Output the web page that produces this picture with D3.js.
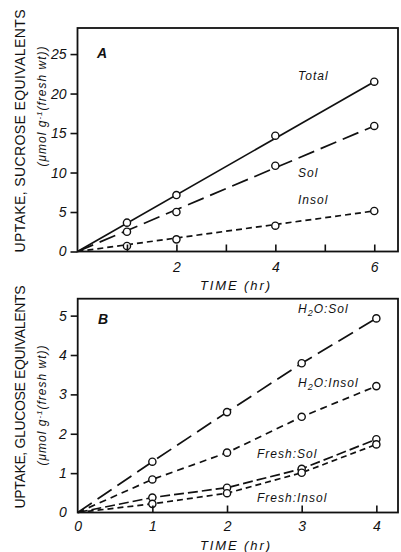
<!DOCTYPE html>
<html>
<head>
<meta charset="utf-8">
<script src="https://cdn.jsdelivr.net/npm/d3@7"></script>
<style>
  body { margin: 0; background: #fff; }
  svg { display: block; }
  text { font-family: "Liberation Sans", Arial, sans-serif; fill: #111; }
  .tick text { font-size: 14px; font-style: italic; }
  .tick line { stroke: #111; stroke-width: 1.6; }
  .frame { fill: none; stroke: #111; stroke-width: 1.8; }
  .lbl { font-size: 12px; font-style: italic; letter-spacing: 1px; }
</style>
</head>
<body>
<script>
// panel A: sucrose equivalents, time in hr
const aTime = [1, 2, 4, 6]
const aTotal = [3.65, 7.15, 14.66, 21.5]
const aSol = [2.5, 5.0, 10.86, 15.9]
const aInsol = [0.7, 1.54, 3.27, 5.13]
// fitted lines through the origin: value at 0 and 6 hr
const aFitTime = [0, 6]
const aTotalFit = [0, 21.5]
const aSolFit = [0, 15.9]
const aInsolFit = [0, 5.13]
const aYTicks = [0, 5, 10, 15, 20, 25]
const aXTicks = [1, 2, 3, 4, 5, 6]
const aXLabels = [2, 4, 6]

// panel B: glucose equivalents
const bTime = [0, 1, 2, 3, 4]
const bH2OSol = [0, 1.29, 2.55, 3.79, 4.93]
const bH2OInsol = [0, 0.84, 1.52, 2.43, 3.21]
const bFreshSol = [0, 0.38, 0.63, 1.11, 1.86]
const bFreshInsol = [0, 0.22, 0.49, 1.01, 1.73]
const bYTicks = [0, 1, 2, 3, 4, 5]
const bXTicks = [0, 1, 2, 3, 4]

const svg = d3.select('body').append('svg')
  .attr('width', 401)
  .attr('height', 552)

function panel(opt) {
  const x = d3.scaleLinear().domain(opt.xDomain).range([opt.left, opt.right])
  const y = d3.scaleLinear().domain(opt.yDomain).range([opt.bottom, opt.top])
  const g = svg.append('g')

  // lines
  opt.lines.forEach(function (s) {
    const line = d3.line()
      .x(function (d, i) { return x(s.t[i]) })
      .y(function (d) { return y(d) })
    g.append('path')
      .attr('d', line(s.v))
      .attr('fill', 'none')
      .attr('stroke', '#111')
      .attr('stroke-width', 1.7)
      .attr('stroke-dasharray', s.dash)
  })

  // open circles
  opt.points.forEach(function (s) {
    g.selectAll(null)
      .data(s.v.map(function (v, i) { return [s.t[i], v] }).filter(function (d) { return d[0] > 0 }))
      .enter().append('circle')
      .attr('cx', function (d) { return x(d[0]) })
      .attr('cy', function (d) { return y(d[1]) })
      .attr('r', 3.6)
      .attr('fill', '#fff')
      .attr('stroke', '#111')
      .attr('stroke-width', 1.4)
  })

  // frame
  g.append('rect')
    .attr('class', 'frame')
    .attr('x', opt.left).attr('y', opt.top)
    .attr('width', opt.right - opt.left)
    .attr('height', opt.bottom - opt.top)

  // y axis, outward ticks
  const ya = g.append('g')
    .attr('transform', 'translate(' + opt.left + ',0)')
    .call(d3.axisLeft(y).tickValues(opt.yTicks).tickSize(7).tickPadding(4).tickSizeOuter(0)
      .tickFormat(d3.format('d')))
  ya.select('.domain').remove()

  // x axis, inward ticks
  const xa = g.append('g')
    .attr('transform', 'translate(0,' + opt.bottom + ')')
    .call(d3.axisBottom(x).tickValues(opt.xTicks).tickSize(-7).tickPadding(opt.xPad).tickSizeOuter(0)
      .tickFormat(function (d) { return opt.xLabels.indexOf(d) >= 0 ? d : '' }))
  xa.select('.domain').remove()

  return g
}

const gA = panel({
  left: 77.5, right: 398, top: 28, bottom: 251.5,
  xDomain: [0, 6.48], yDomain: [0, 28.3],
  yTicks: aYTicks, xTicks: aXTicks, xLabels: aXLabels, xPad: 11,
  lines: [
    {t: aFitTime, v: aTotalFit, dash: null},
    {t: aFitTime, v: aSolFit, dash: '17,7'},
    {t: aFitTime, v: aInsolFit, dash: '6,4'}
  ],
  points: [
    {t: aTime, v: aTotal},
    {t: aTime, v: aSol},
    {t: aTime, v: aInsol}
  ]
})

const gB = panel({
  left: 77.7, right: 398, top: 298.7, bottom: 512.5,
  xDomain: [0, 4.29], yDomain: [0, 5.43],
  yTicks: bYTicks, xTicks: bXTicks, xLabels: bXTicks, xPad: 9,
  lines: [
    {t: bTime, v: bH2OSol, dash: '17,7'},
    {t: bTime, v: bH2OInsol, dash: '7,5'},
    {t: bTime, v: bFreshSol, dash: '10,4'},
    {t: bTime, v: bFreshInsol, dash: '6,4'}
  ],
  points: [
    {t: bTime, v: bH2OSol},
    {t: bTime, v: bH2OInsol},
    {t: bTime, v: bFreshSol},
    {t: bTime, v: bFreshInsol}
  ]
})
// no tick mark at the origin of B's x axis
gB.selectAll('.tick line').filter(function (d) { return d === 0 }).remove()

// panel letters
svg.append('text').attr('x', 97).attr('y', 58).style('font-size', '14px').style('font-style', 'italic').style('font-weight', 'bold').text('A')
svg.append('text').attr('x', 98).attr('y', 324).style('font-size', '14px').style('font-style', 'italic').style('font-weight', 'bold').text('B')

// series labels
function label(x, y, parts) {
  const t = svg.append('text').attr('class', 'lbl').attr('x', x).attr('y', y)
  parts.forEach(function (p) {
    const s = t.append('tspan').text(p[0])
    if (p[1]) s.attr('dy', p[1]).style('font-size', p[2] || null)
  })
}
label(298, 80, [['Total']])
label(298, 177, [['Sol']])
label(298, 204, [['Insol']])
label(298, 313, [['H'], ['2', 3, '9px'], ['O:Sol', -3]])
label(298, 387, [['H'], ['2', 3, '9px'], ['O:Insol', -3]])
label(257, 458, [['Fresh:Sol']])
label(257, 502, [['Fresh:Insol']])

// axis titles
function xTitle(y) {
  svg.append('text')
    .attr('x', 235).attr('y', y)
    .attr('text-anchor', 'middle')
    .attr('textLength', 70).attr('lengthAdjust', 'spacing')
    .style('font-size', '13px').style('font-style', 'italic')
    .text('TIME (hr)')
}
xTitle(290)
xTitle(550)

function yTitle(cy1, len1, text1, cy2) {
  svg.append('text')
    .attr('transform', 'translate(25,' + cy1 + ') rotate(-90)')
    .attr('text-anchor', 'middle')
    .attr('textLength', len1).attr('lengthAdjust', 'spacing')
    .style('font-size', '14px')
    .text(text1)
  const t = svg.append('text')
    .attr('transform', 'translate(46,' + cy2 + ') rotate(-90)')
    .attr('text-anchor', 'middle')
    .style('font-size', '12px').style('font-style', 'italic').style('letter-spacing', '1px')
  t.append('tspan').text('(μmol g')
  t.append('tspan').attr('dy', -4).style('font-size', '8px').text('-1')
  t.append('tspan').attr('dy', 4).text('(fresh wt))')
}
yTitle(131, 243, 'UPTAKE, SUCROSE EQUIVALENTS', 106)
yTitle(397, 223, 'UPTAKE, GLUCOSE EQUIVALENTS', 405)
</script>
</body>
</html>
